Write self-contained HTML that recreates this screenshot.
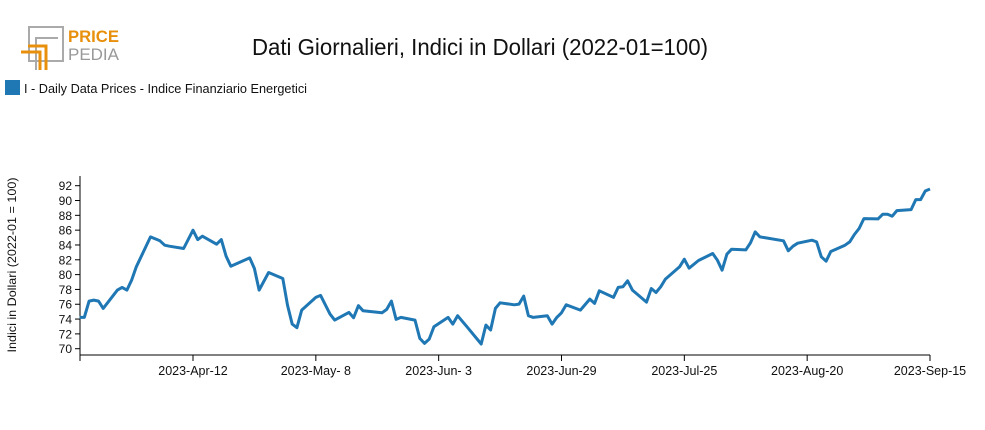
<!DOCTYPE html>
<html><head><meta charset="utf-8"><style>
html,body{margin:0;padding:0;background:#fff;}
svg{display:block;font-family:"Liberation Sans",sans-serif;}
</style></head><body>
<svg id="chart" width="985" height="430" viewBox="0 0 985 430">
  <g>
    <rect x="29" y="27" width="34" height="34" fill="none" stroke="#aaa" stroke-width="2"/>
    <polyline points="36,70 36,38 58,38" fill="none" stroke="#aaa" stroke-width="2"/>
    <polyline points="21,52 40,52 40,70" fill="none" stroke="#e8900c" stroke-width="3"/>
    <polyline points="28,46 46,46 46,70" fill="none" stroke="#e8900c" stroke-width="3"/>
    <text x="68" y="42" font-size="17" font-weight="bold" fill="#e8900c" textLength="51" lengthAdjust="spacingAndGlyphs">PRICE</text>
    <text x="68" y="60" font-size="17" fill="#999" textLength="51" lengthAdjust="spacingAndGlyphs">PEDIA</text>
  </g>
  <text x="480" y="55" text-anchor="middle" font-size="23" fill="#111" textLength="456" lengthAdjust="spacingAndGlyphs">Dati Giornalieri, Indici in Dollari (2022-01=100)</text>
  <g>
    <rect x="5" y="80" width="15" height="15" fill="#1f77b4"/>
    <text x="24" y="93" font-size="13" fill="#111" textLength="283" lengthAdjust="spacingAndGlyphs">I - Daily Data Prices - Indice Finanziario Energetici</text>
  </g>
  <text transform="translate(16,265) rotate(-90)" text-anchor="middle" font-size="12" fill="#111" textLength="175" lengthAdjust="spacingAndGlyphs">Indici in Dollari (2022-01 = 100)</text>
  <g id="yaxis"></g>
  <g id="xaxis"></g>
  <g id="plot"></g>
</svg>
<script>
const dates = ["2023-03-19","2023-03-20","2023-03-21","2023-03-22","2023-03-23","2023-03-24","2023-03-27","2023-03-28","2023-03-29","2023-03-30","2023-03-31","2023-04-03","2023-04-05","2023-04-06","2023-04-07","2023-04-10","2023-04-12","2023-04-13","2023-04-14","2023-04-17","2023-04-18","2023-04-19","2023-04-20","2023-04-24","2023-04-25","2023-04-26","2023-04-28","2023-05-01","2023-05-02","2023-05-03","2023-05-04","2023-05-05","2023-05-08","2023-05-09","2023-05-11","2023-05-12","2023-05-15","2023-05-16","2023-05-17","2023-05-18","2023-05-22","2023-05-23","2023-05-24","2023-05-25","2023-05-26","2023-05-29","2023-05-30","2023-05-31","2023-06-01","2023-06-02","2023-06-05","2023-06-06","2023-06-07","2023-06-09","2023-06-12","2023-06-13","2023-06-14","2023-06-15","2023-06-16","2023-06-19","2023-06-20","2023-06-21","2023-06-22","2023-06-23","2023-06-26","2023-06-27","2023-06-28","2023-06-29","2023-06-30","2023-07-03","2023-07-05","2023-07-06","2023-07-07","2023-07-10","2023-07-11","2023-07-12","2023-07-13","2023-07-14","2023-07-17","2023-07-18","2023-07-19","2023-07-20","2023-07-21","2023-07-24","2023-07-25","2023-07-26","2023-07-28","2023-07-31","2023-08-01","2023-08-02","2023-08-03","2023-08-04","2023-08-07","2023-08-08","2023-08-09","2023-08-10","2023-08-11","2023-08-15","2023-08-16","2023-08-17","2023-08-18","2023-08-21","2023-08-22","2023-08-23","2023-08-24","2023-08-25","2023-08-28","2023-08-29","2023-08-30","2023-08-31","2023-09-01","2023-09-04","2023-09-05","2023-09-06","2023-09-07","2023-09-08","2023-09-11","2023-09-12","2023-09-13","2023-09-14","2023-09-15"];
const values = [74.22,74.22,76.42,76.56,76.42,75.44,77.91,78.27,77.91,79.25,81.05,85.09,84.56,83.97,83.84,83.52,85.99,84.73,85.18,84.11,84.73,82.49,81.14,82.26,80.83,77.91,80.29,79.48,75.89,73.32,72.83,75.21,76.92,77.19,74.67,73.86,74.90,74.18,75.80,75.12,74.85,75.30,76.42,73.95,74.22,73.86,71.39,70.72,71.30,72.96,74.22,73.32,74.45,72.96,70.63,73.19,72.52,75.44,76.20,75.93,76.02,77.10,74.45,74.22,74.45,73.32,74.22,74.85,75.93,75.21,76.69,76.11,77.82,76.92,78.27,78.36,79.16,77.91,76.29,78.13,77.59,78.36,79.39,81.05,82.08,80.87,81.90,82.85,81.95,80.60,82.76,83.43,83.34,84.29,85.77,85.09,85.00,84.56,83.21,83.84,84.24,84.65,84.42,82.40,81.81,83.12,83.97,84.42,85.41,86.22,87.56,87.52,88.15,88.15,87.88,88.64,88.78,90.13,90.13,91.29,91.56];
const yTicks = [70,72,74,76,78,80,82,84,86,88,90,92];
const xTickDates = ["2023-04-12","2023-05-08","2023-06-03","2023-06-29","2023-07-25","2023-08-20","2023-09-15"];
const xTickLabels = ["2023-Apr-12","2023-May- 8","2023-Jun- 3","2023-Jun-29","2023-Jul-25","2023-Aug-20","2023-Sep-15"];

const NS = "http://www.w3.org/2000/svg";
const t0 = Date.UTC(2023,3,12), t1 = Date.UTC(2023,8,15);
function dayMs(s){const p=s.split("-");return Date.UTC(+p[0],+p[1]-1,+p[2]);}
function xs(s){return 193 + (dayMs(s)-t0)/(t1-t0)*(930-193);}
function ys(v){return 348.7 - (v-70)*(348.7-185.7)/22;}
function mk(tag,attrs,parent){const e=document.createElementNS(NS,tag);for(const k in attrs)e.setAttribute(k,attrs[k]);parent.appendChild(e);return e;}

const yg=document.getElementById("yaxis"), xg=document.getElementById("xaxis"), pg=document.getElementById("plot");
mk("line",{x1:80,y1:176,x2:80,y2:355,stroke:"#000","stroke-width":1},yg);
yTicks.forEach(v=>{
  const y=ys(v);
  const tk=mk("line",{x1:75,y1:y,x2:80,y2:y,stroke:"#000"},yg);
  
  
  const t=mk("text",{x:72,y:y+4.5,"text-anchor":"end","font-size":12,fill:"#111"},yg);
  
  
  t.textContent=v;
});
mk("line",{x1:80,y1:355,x2:930,y2:355,stroke:"#000","stroke-width":1},xg);
mk("line",{x1:80,y1:355,x2:80,y2:361,stroke:"#000"},xg);
xTickDates.forEach((d,i)=>{
  const x=xs(d);
  const tk=mk("line",{x1:x,y1:355,x2:x,y2:361,stroke:"#000"},xg);
  
  
  const t=mk("text",{x:x,y:375,"text-anchor":"middle","font-size":12.5,fill:"#111"},xg);
  
  
  t.textContent=xTickLabels[i];
});
const pts=dates.map((d,i)=>xs(d).toFixed(1)+","+ys(values[i]).toFixed(1)).join(" ");
const line=mk("polyline",{points:pts,fill:"none",stroke:"#1f77b4","stroke-width":3,"stroke-linejoin":"round"},pg);


</script>
</body></html>
